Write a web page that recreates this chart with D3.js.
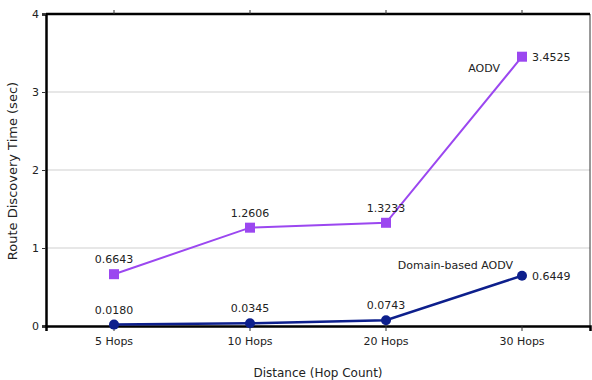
<!DOCTYPE html>
<html><head><meta charset="utf-8">
<script src="https://cdn.jsdelivr.net/npm/d3@7"></script>
<style>body{margin:0;background:#fff}svg{display:block}text{font-family:"DejaVu Sans",sans-serif;fill:#222}</style>
</head><body><svg id="c" width="592" height="380"></svg>
<script>
const categories = ["5 Hops","10 Hops","20 Hops","30 Hops"];
const aodv = [0.6643,1.2606,1.3233,3.4525];
const domain = [0.0180,0.0345,0.0743,0.6449];
const yTicks = [0,1,2,3,4];
const fmt = d => d.toFixed(4);

const svg = d3.select("#c");
const L=46,R=590,T=14,B=326;
const x = d3.scaleBand().domain(categories).range([L,R]);
const y = d3.scaleLinear().domain([0,4]).range([B,T]);
const cx = c => x(c)+x.bandwidth()/2;

// grid
svg.append("g").selectAll("line").data(yTicks.filter(d=>d>0&&d<4)).join("line")
  .attr("x1",L).attr("x2",R).attr("y1",d=>y(d)).attr("y2",d=>y(d))
  .attr("stroke","#cfcfcf").attr("stroke-width",1);

// frame
svg.append("line").attr("x1",R).attr("x2",R).attr("y1",T).attr("y2",B).attr("stroke","#333").attr("stroke-width",1);
svg.append("line").attr("x1",L).attr("x2",R).attr("y1",T).attr("y2",T).attr("stroke","#000").attr("stroke-width",2.5);

// axes
const yAxis = svg.append("g").attr("transform",`translate(${L},0)`)
  .call(d3.axisLeft(y).tickValues(yTicks).tickFormat(d3.format("d")).tickSize(4).tickPadding(3));
const xAxis = svg.append("g").attr("transform",`translate(0,${B})`)
  .call(d3.axisBottom(x).tickSize(5).tickPadding(6));
const xTop = svg.append("g").attr("transform",`translate(0,${T})`)
  .call(d3.axisTop(x).tickSize(4).tickFormat(""));
[yAxis,xAxis,xTop].forEach(g=>{
  g.select(".domain").attr("stroke","#000").attr("stroke-width",2.5);
  g.selectAll(".tick line").attr("stroke","#333");
  g.selectAll(".tick text").style("font-family","DejaVu Sans").style("font-size","11px").attr("fill","#222");
});
xTop.select(".domain").remove();

const line = d3.line().x((d,i)=>cx(categories[i])).y(d=>y(d));

// domain-based series
svg.append("path").datum(domain).attr("d",line).attr("fill","none").attr("stroke","#0d1f8c").attr("stroke-width",2.5);
svg.append("g").selectAll("circle").data(domain).join("circle")
  .attr("cx",(d,i)=>cx(categories[i])).attr("cy",d=>y(d)).attr("r",5).attr("fill","#0d1f8c");

// aodv series
svg.append("path").datum(aodv).attr("d",line).attr("fill","none").attr("stroke","#9b47f0").attr("stroke-width",2);
svg.append("g").selectAll("rect").data(aodv).join("rect")
  .attr("x",(d,i)=>cx(categories[i])-5).attr("y",d=>y(d)-5).attr("width",10).attr("height",10).attr("fill","#9b47f0");

// value labels
function labels(data){
  svg.append("g").selectAll("text").data(data).join("text")
    .attr("x",(d,i)=>i<data.length-1?cx(categories[i]):cx(categories[i])+10)
    .attr("y",(d,i)=>i<data.length-1?y(d)-11:y(d)+4)
    .attr("text-anchor",(d,i)=>i<data.length-1?"middle":"start")
    .style("font-size","11px").text(fmt);
}
labels(aodv); labels(domain);

// series names
svg.append("text").attr("x",cx(categories[3])-22).attr("y",y(aodv[3])+15).attr("text-anchor","end").style("font-size","11px").text("AODV");
svg.append("text").attr("x",cx(categories[3])-9).attr("y",y(domain[3])-7).attr("text-anchor","end").style("font-size","11px").text("Domain-based AODV");

// axis titles
svg.append("text").attr("x",(L+R)/2).attr("y",377).attr("text-anchor","middle").style("font-size","12px").text("Distance (Hop Count)");
svg.append("text").attr("transform","translate(17,171) rotate(-90)").attr("text-anchor","middle").style("font-size","13px").text("Route Discovery Time (sec)");
</script></body></html>
